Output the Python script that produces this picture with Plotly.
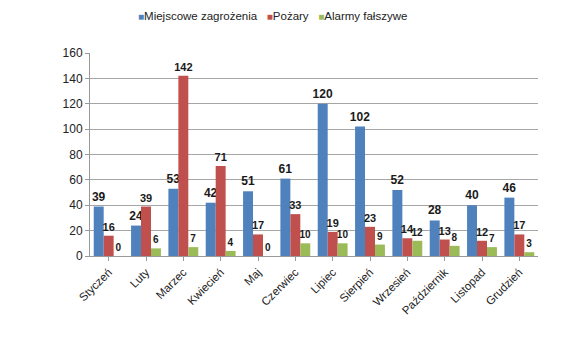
import plotly.graph_objects as go

months = ["Styczeń", "Luty", "Marzec", "Kwiecień", "Maj", "Czerwiec", "Lipiec",
          "Sierpień", "Wrzesień", "Październik", "Listopad", "Grudzień"]
miejscowe = [39, 24, 53, 42, 51, 61, 120, 102, 52, 28, 40, 46]
pozary = [16, 39, 142, 71, 17, 33, 19, 23, 14, 13, 12, 17]
alarmy = [0, 6, 7, 4, 0, 10, 10, 9, 12, 8, 7, 3]

series = [
    ("Miejscowe zagrożenia", miejscowe, "#4F81BD", 12),
    ("Pożary", pozary, "#C0504D", 11),
    ("Alarmy fałszywe", alarmy, "#9BBB59", 10),
]

fig = go.Figure()
for name, vals, col, fs in series:
    fig.add_trace(go.Bar(
        x=months, y=vals, name=name,
        marker=dict(color=col, line=dict(width=0)),
        text=[str(v) for v in vals], textposition="outside",
        textfont=dict(family="Liberation Sans, Arial", size=fs, color="#1a1a1a"),
        texttemplate="<b>%{text}</b>",
        constraintext="none", cliponaxis=False,
        showlegend=False,
    ))

legend_text = "&nbsp;&nbsp;&nbsp;".join(
    f"<span style='color:{col};font-size:10px'>■</span>{name}" for name, _, col, _ in series)
fig.add_annotation(
    text=legend_text, xref="paper", yref="paper",
    x=(272 - 90) / 448, y=1 + (53 - 16) / 203,
    xanchor="center", yanchor="middle", showarrow=False,
    font=dict(family="Liberation Sans, Arial", size=11.5, color="#222"),
)

fig.update_layout(
    width=588, height=347,
    margin=dict(l=90, r=50, t=53, b=91),
    paper_bgcolor="white", plot_bgcolor="white",
    barmode="group", bargap=0.2, bargroupgap=0,
    font=dict(family="Liberation Sans, Arial", size=11, color="#222"),
    xaxis=dict(tickangle=-45, showline=True, linecolor="#999", ticks="outside",
               ticklen=4, tickcolor="#999", tickfont=dict(size=11.5)),
    yaxis=dict(range=[0, 160], dtick=20, showgrid=True, gridcolor="#a6a6a6",
               showline=True, linecolor="#999", ticks="outside", ticklen=4,
               tickcolor="#999", tickfont=dict(size=12), zeroline=False),
)

fig.write_html("out.html")
